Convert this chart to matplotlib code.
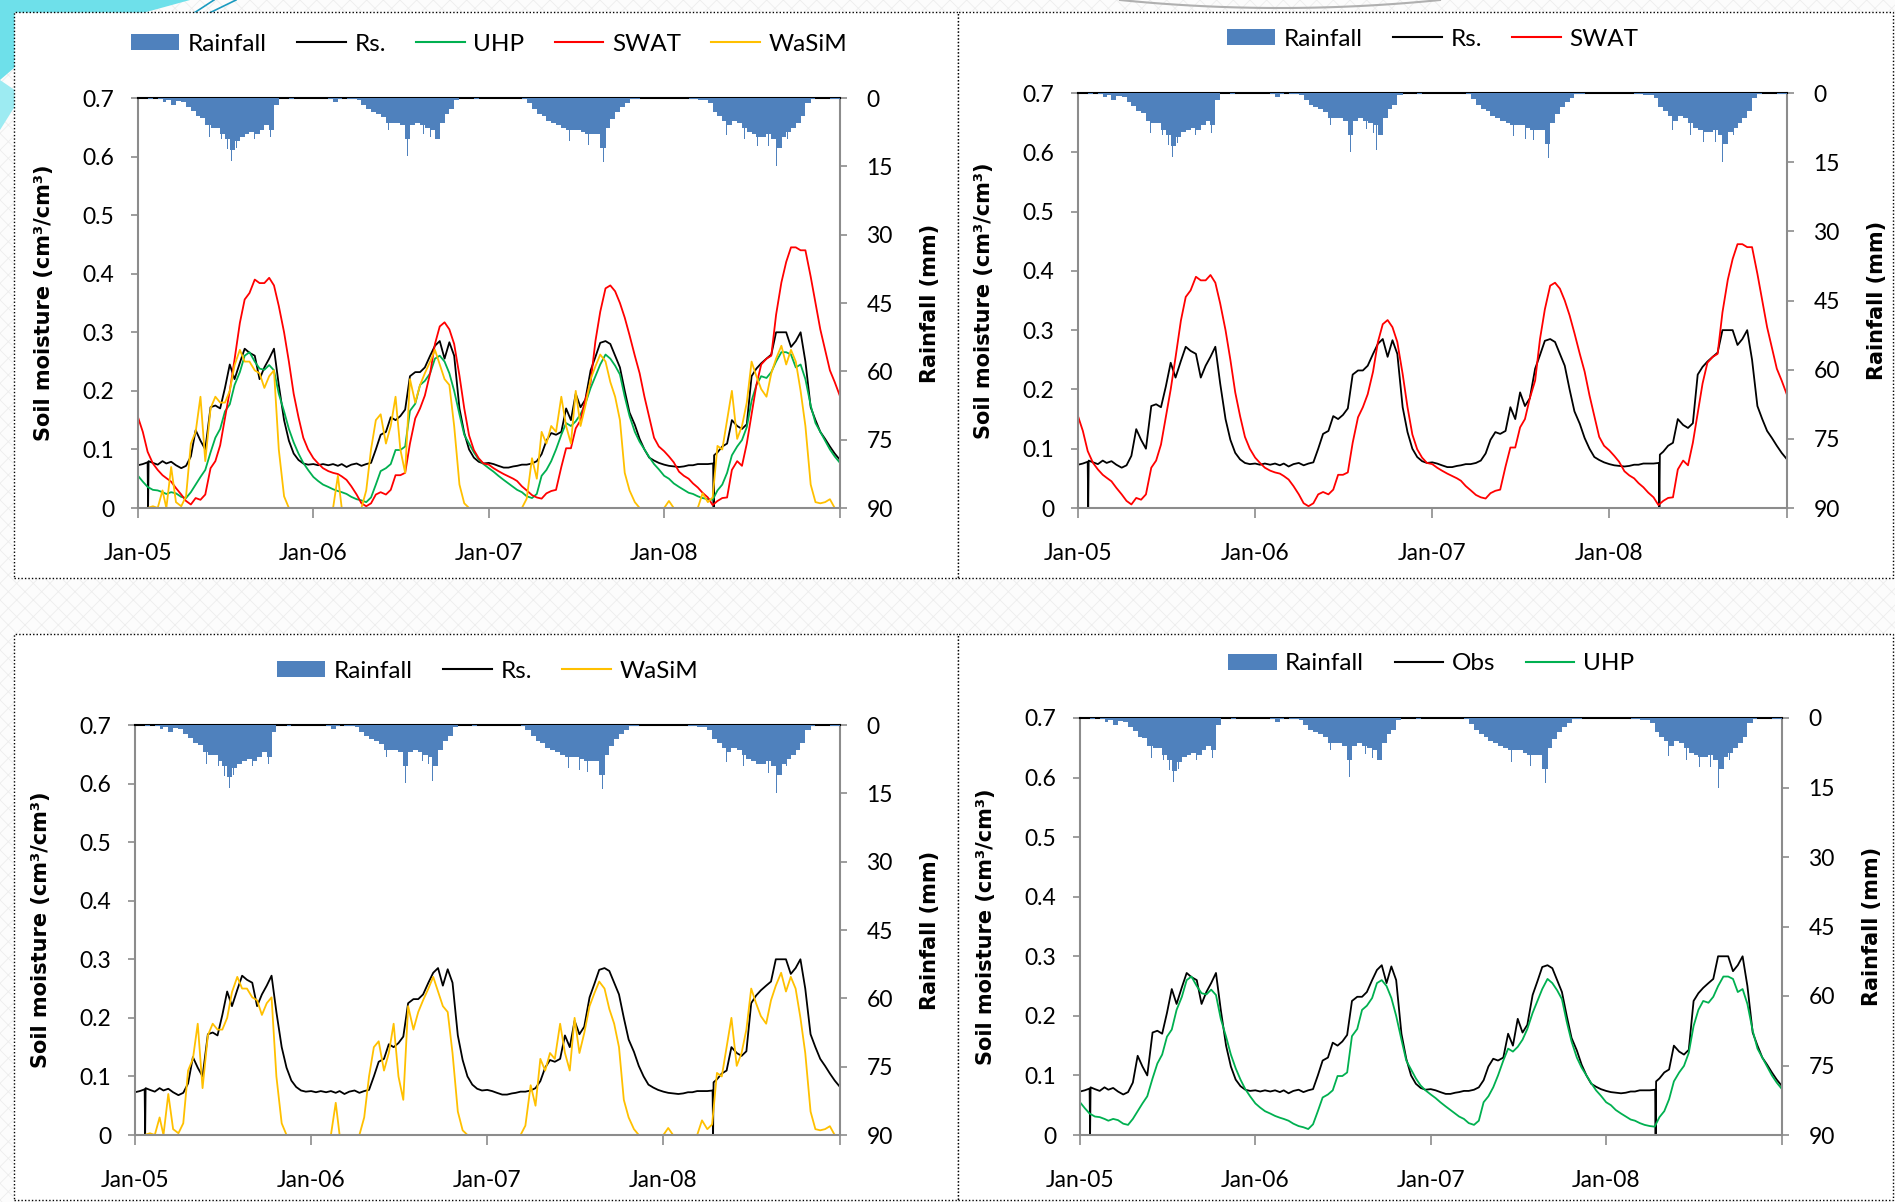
import numpy as np
import pandas as pd
import matplotlib
matplotlib.use('Agg')
import matplotlib.pyplot as plt
import matplotlib.dates as mdates
from matplotlib.patches import Rectangle, Polygon
from matplotlib.lines import Line2D

plt.rcParams['font.family'] = ['Lato', 'DejaVu Sans']

# soil moisture sampled on the 1st, 11th and 21st of each month (cm3/cm3)
years = [2005, 2006, 2007, 2008]
grid = [pd.Timestamp(y, m, d) for y in years for m in range(1, 13) for d in (1, 11, 21)]
grid.append(pd.Timestamp(2008, 12, 31))

rs_2005 = [0.073, 0.075, 0.078, 0.077, 0.074, 0.08, 0.076, 0.079, 0.073, 0.068, 0.072, 0.088,
           0.133, 0.115, 0.10, 0.172, 0.175, 0.17, 0.205, 0.245, 0.22, 0.248, 0.272, 0.265,
           0.26, 0.22, 0.24, 0.255, 0.272, 0.21, 0.15, 0.115, 0.093, 0.082, 0.076, 0.074]
rs_2006 = [0.075, 0.073, 0.075, 0.073, 0.075, 0.072, 0.075, 0.07, 0.074, 0.076, 0.072, 0.075,
           0.077, 0.10, 0.125, 0.13, 0.155, 0.15, 0.157, 0.168, 0.225, 0.232, 0.232, 0.24,
           0.26, 0.277, 0.285, 0.255, 0.283, 0.26, 0.17, 0.128, 0.10, 0.086, 0.079, 0.076]
rs_2007 = [0.077, 0.075, 0.072, 0.069, 0.069, 0.071, 0.072, 0.074, 0.074, 0.076, 0.08, 0.092,
           0.115, 0.128, 0.125, 0.13, 0.17, 0.15, 0.195, 0.172, 0.185, 0.235, 0.258, 0.282,
           0.285, 0.28, 0.26, 0.24, 0.20, 0.163, 0.142, 0.118, 0.10, 0.086, 0.081, 0.077]
rs_2008 = [0.074, 0.072, 0.071, 0.07, 0.071, 0.073, 0.073, 0.075, 0.075, 0.075, 0.076, 0.095,
           0.105, 0.11, 0.15, 0.14, 0.135, 0.143, 0.225, 0.238, 0.247, 0.255, 0.262, 0.30,
           0.30, 0.30, 0.275, 0.285, 0.30, 0.25, 0.172, 0.15, 0.13, 0.118, 0.105, 0.093, 0.083]
# sensor dropouts in the observed series
rs_drop_dates = ['2005-01-21', '2005-01-22', '2005-01-23', '2008-04-12', '2008-04-13', '2008-04-14']
rs_drop_vals = [0.078, 0.0, 0.08, 0.076, 0.0, 0.09]

swat_2005 = [0.155, 0.13, 0.096, 0.076, 0.065, 0.056, 0.051, 0.045, 0.034, 0.023, 0.012, 0.006,
             0.017, 0.014, 0.023, 0.068, 0.08, 0.107, 0.153, 0.20, 0.254, 0.316, 0.356, 0.367,
             0.39, 0.384, 0.384, 0.393, 0.38, 0.345, 0.30, 0.25, 0.195, 0.155, 0.12, 0.10]
swat_2006 = [0.085, 0.076, 0.068, 0.063, 0.06, 0.058, 0.054, 0.048, 0.037, 0.023, 0.008, 0.003,
             0.008, 0.023, 0.027, 0.023, 0.031, 0.056, 0.056, 0.06, 0.11, 0.153, 0.17, 0.192,
             0.23, 0.28, 0.31, 0.317, 0.305, 0.28, 0.226, 0.17, 0.124, 0.099, 0.085, 0.076]
swat_2007 = [0.074, 0.068, 0.063, 0.058, 0.054, 0.05, 0.046, 0.037, 0.03, 0.022, 0.018, 0.016,
             0.025, 0.029, 0.031, 0.07, 0.102, 0.102, 0.136, 0.15, 0.185, 0.215, 0.285, 0.335,
             0.375, 0.38, 0.37, 0.35, 0.325, 0.295, 0.26, 0.23, 0.19, 0.155, 0.12, 0.105]
swat_2008 = [0.097, 0.088, 0.078, 0.062, 0.055, 0.05, 0.042, 0.035, 0.026, 0.018, 0.005, 0.012,
             0.017, 0.018, 0.065, 0.08, 0.072, 0.11, 0.16, 0.21, 0.245, 0.255, 0.26, 0.33,
             0.385, 0.42, 0.445, 0.445, 0.44, 0.44, 0.395, 0.35, 0.305, 0.27, 0.235, 0.215, 0.193]

uhp_2005 = [0.055, 0.045, 0.036, 0.031, 0.03, 0.027, 0.024, 0.027, 0.025, 0.019, 0.017, 0.027,
            0.04, 0.053, 0.065, 0.095, 0.12, 0.135, 0.165, 0.177, 0.21, 0.232, 0.26, 0.266,
            0.25, 0.238, 0.236, 0.244, 0.235, 0.195, 0.165, 0.135, 0.112, 0.093, 0.077, 0.065]
uhp_2006 = [0.053, 0.046, 0.04, 0.036, 0.032, 0.029, 0.027, 0.024, 0.019, 0.015, 0.013, 0.01,
            0.018, 0.04, 0.063, 0.068, 0.075, 0.099, 0.099, 0.105, 0.166, 0.178, 0.21, 0.217,
            0.23, 0.255, 0.26, 0.25, 0.23, 0.20, 0.16, 0.125, 0.11, 0.095, 0.083, 0.075]
uhp_2007 = [0.068, 0.062, 0.055, 0.048, 0.042, 0.036, 0.031, 0.027, 0.02, 0.017, 0.024, 0.055,
            0.065, 0.08, 0.10, 0.125, 0.145, 0.14, 0.148, 0.16, 0.178, 0.205, 0.225, 0.245,
            0.262, 0.255, 0.243, 0.228, 0.19, 0.157, 0.13, 0.113, 0.10, 0.087, 0.075, 0.066]
uhp_2008 = [0.055, 0.05, 0.042, 0.036, 0.031, 0.026, 0.024, 0.02, 0.017, 0.015, 0.014, 0.03,
            0.04, 0.06, 0.09, 0.105, 0.116, 0.138, 0.183, 0.21, 0.225, 0.222, 0.232, 0.25,
            0.266, 0.266, 0.262, 0.24, 0.245, 0.22, 0.175, 0.145, 0.13, 0.115, 0.10, 0.088, 0.078]

wasim_2005 = [0, 0, 0, 0.003, 0, 0.03, 0, 0.07, 0.01, 0.003, 0.02, 0.11,
              0.13, 0.19, 0.08, 0.17, 0.19, 0.18, 0.18, 0.20, 0.244, 0.27, 0.25, 0.25,
              0.235, 0.23, 0.205, 0.225, 0.235, 0.10, 0.02, 0, 0, 0, 0, 0]
wasim_2006 = [0, 0, 0, 0, 0, 0.055, 0, 0, 0, 0, 0, 0.03,
              0.10, 0.15, 0.16, 0.11, 0.14, 0.19, 0.10, 0.06, 0.22, 0.18, 0.21, 0.23,
              0.25, 0.27, 0.245, 0.22, 0.21, 0.14, 0.04, 0.008, 0, 0, 0, 0]
wasim_2007 = [0, 0, 0, 0, 0, 0, 0, 0, 0.016, 0.085, 0.05, 0.13,
              0.11, 0.14, 0.13, 0.19, 0.14, 0.11, 0.20, 0.14, 0.174, 0.22, 0.242, 0.262,
              0.25, 0.215, 0.19, 0.15, 0.06, 0.03, 0.01, 0, 0, 0, 0, 0]
wasim_2008 = [0, 0.012, 0, 0, 0, 0, 0, 0, 0.025, 0.01, 0.018, 0.106,
              0.10, 0.15, 0.20, 0.118, 0.14, 0.18, 0.25, 0.225, 0.203, 0.19, 0.23, 0.255,
              0.277, 0.245, 0.27, 0.25, 0.20, 0.14, 0.04, 0.01, 0.008, 0.01, 0.015, 0, 0]

# rainfall (mm), typical depth of each 10-day block
rain_2005 = [0, 0, 0.2, 0, 0.3, 0.8, 0.4, 1.5, 0.6, 0.8, 2.0, 2.8,
             4.0, 4.3, 6.0, 6.5, 6.5, 8.0, 9.0, 11.5, 9.5, 8.5, 8.0, 7.5,
             8.0, 7.0, 6.0, 7.0, 1.5, 0, 0, 0.2, 0, 0, 0, 0]
rain_2006 = [0, 0, 0, 0.2, 0.8, 0.2, 0, 0.2, 0.3, 0.4, 1.5, 2.5,
             3.0, 3.5, 4.2, 5.5, 5.5, 5.5, 6.0, 9.0, 6.0, 5.5, 6.0, 6.5,
             7.0, 9.0, 5.5, 3.5, 2.5, 0.5, 0, 0, 0, 0.2, 0, 0]
rain_2007 = [0, 0, 0, 0, 0, 0, 0, 0.3, 1.2, 2.5, 3.5, 4.0,
             5.0, 5.5, 6.0, 6.5, 7.0, 7.0, 7.0, 7.5, 8.0, 8.0, 8.0, 11.0,
             6.5, 4.5, 3.0, 2.0, 1.0, 0.3, 0.2, 0, 0, 0, 0, 0]
rain_2008 = [0, 0, 0, 0, 0, 0.2, 0.3, 0.5, 0.5, 1.0, 3.0, 4.0,
             5.0, 6.0, 5.0, 5.5, 6.5, 7.5, 8.0, 8.5, 8.5, 8.0, 9.0, 11.0,
             8.5, 7.5, 6.5, 5.5, 4.0, 1.0, 0.3, 0, 0, 0, 0.3, 0.2]
# heaviest single days
rain_peak_dates = ['2005-05-30', '2005-06-24', '2005-07-06', '2005-07-15', '2005-07-25',
                   '2005-09-01', '2005-10-04', '2006-06-06', '2006-07-16', '2006-08-19',
                   '2006-09-01', '2006-09-09', '2007-06-18', '2007-07-12', '2007-07-28',
                   '2007-08-22', '2007-08-28', '2008-05-10', '2008-06-16', '2008-07-13',
                   '2008-08-06', '2008-08-22', '2008-09-01', '2008-09-13']
rain_peak_mm = [8.6, 9.1, 11.3, 13.9, 10.9, 9.1, 8.6, 7.0, 12.7, 7.8, 8.6, 12.3,
                9.4, 9.9, 10.3, 10.8, 14.0, 8.1, 9.1, 10.6, 10.6, 15.0, 11.0, 9.1]

year_ticks = ['2005-01-01', '2006-01-01', '2007-01-01', '2008-01-01', '2009-01-01']
year_labels = ['Jan-05', 'Jan-06', 'Jan-07', 'Jan-08', '']
sm_ticks = [0, 0.1, 0.2, 0.3, 0.4, 0.5, 0.6, 0.7]
sm_labels = ['0', '0.1', '0.2', '0.3', '0.4', '0.5', '0.6', '0.7']
rain_ticks = [0, 15, 30, 45, 60, 75, 90]


def build(parts, extra_dates=None, extra_vals=None):
    s = pd.Series(np.concatenate(parts), index=grid)
    if extra_dates is not None:
        s = pd.Series(extra_vals, index=pd.to_datetime(extra_dates)).combine_first(s)
    return s.sort_index()


rs = build([rs_2005, rs_2006, rs_2007, rs_2008], rs_drop_dates, rs_drop_vals)
swat = build([swat_2005, swat_2006, swat_2007, swat_2008])
uhp = build([uhp_2005, uhp_2006, uhp_2007, uhp_2008])
wasim = build([wasim_2005, wasim_2006, wasim_2007, wasim_2008])
rain = np.concatenate([rain_2005, rain_2006, rain_2007, rain_2008])

rain_color = '#4f81bd'
green = '#00b050'
red = '#ff0000'
yellow = '#ffc000'
grey = '#8c8c8c'
W, H = 1895, 1202

fig = plt.figure(figsize=(W / 100, H / 100), dpi=100)
fig.patch.set_facecolor('white')
plt.rcParams['hatch.linewidth'] = 0.6
fig.add_artist(Rectangle((0, 0), 1, 1, transform=fig.transFigure, fc='#fcfcfc',
                         ec='#ededed', hatch='xx', lw=0, zorder=-10))

# slide decoration in the upper left corner and the arc at the top
fig.add_artist(Polygon([(0, 1), (190 / W, 1), (110 / W, 1 - 22 / H), (35 / W, 1 - 50 / H),
                        (0, 1 - 80 / H)], closed=True, transform=fig.transFigure,
                       fc='#6ee0ea', ec='none', zorder=-9))
fig.add_artist(Polygon([(0, 1 - 80 / H), (22 / W, 1 - 95 / H), (0, 1 - 130 / H)], closed=True,
                       transform=fig.transFigure, fc='#9debf2', ec='none', zorder=-9))
for (x0, y0, x1, y1) in [(150, 42, 236, 0), (168, 30, 214, 0), (120, 44, 200, 16)]:
    fig.add_artist(Line2D([x0 / W, x1 / W], [1 - y0 / H, 1 - y1 / H], transform=fig.transFigure,
                          color='#1b9bc0', lw=1.2, zorder=-9))
arc_x = np.linspace(1120, 1440, 60)
arc_y = 8 * (1 - ((arc_x - 1280) / 160) ** 2)
fig.add_artist(Line2D(arc_x / W, 1 - arc_y / H, transform=fig.transFigure,
                      color='#b0b0b0', lw=1.5, zorder=-9))

panels = [
    ((14, 12, 958, 578), (138, 98, 840, 508),
     [('Rs.', rs, 'black'), ('UHP', uhp, green), ('SWAT', swat, red), ('WaSiM', wasim, yellow)], 44),
    ((958, 12, 1893, 578), (1078, 93, 1787, 508),
     [('Rs.', rs, 'black'), ('SWAT', swat, red)], 39),
    ((14, 634, 958, 1200), (135, 725, 840, 1135),
     [('Rs.', rs, 'black'), ('WaSiM', wasim, yellow)], 671),
    ((958, 634, 1893, 1200), (1080, 718, 1782, 1135),
     [('Obs', rs, 'black'), ('UHP', uhp, green)], 664),
]

tick_font = 16.5
legend_font = 17.5
label_font = 15
bar_x = mdates.date2num(grid[:-1])
bar_w = np.diff(mdates.date2num(grid))

for box, pos, lines, leg_y in panels:
    bx0, by0, bx1, by1 = box
    fig.add_artist(Rectangle((bx0 / W, 1 - by1 / H), (bx1 - bx0) / W, (by1 - by0) / H,
                             transform=fig.transFigure, fc='white', ec='black',
                             ls=(0, (1, 1.5)), lw=1.0, zorder=-5))
    x0, y0, x1, y1 = pos
    ax = fig.add_axes([x0 / W, 1 - y1 / H, (x1 - x0) / W, (y1 - y0) / H])
    ax.patch.set_alpha(0)

    handles = [Rectangle((0, 0), 1, 1, fc=rain_color, ec='none')]
    labels = ['Rainfall']
    for name, s, col in lines:
        ax.plot(s.index, s.values, color=col, lw=1.3, zorder=2)
        handles.append(Line2D([], [], color=col, lw=1.5))
        labels.append(name)

    ax.set_xlim(pd.Timestamp('2005-01-01'), pd.Timestamp('2009-01-01'))
    ax.set_ylim(0, 0.7)
    ax.set_xticks(pd.to_datetime(year_ticks))
    ax.set_xticklabels(year_labels, fontsize=tick_font)
    ax.set_yticks(sm_ticks)
    ax.set_yticklabels(sm_labels, fontsize=tick_font)
    ax.tick_params(axis='x', direction='out', length=7, width=1.2, color=grey, pad=18)
    ax.tick_params(axis='y', direction='out', length=5, width=1.2, color=grey, pad=12)
    for side in ('left', 'bottom'):
        ax.spines[side].set_color(grey)
        ax.spines[side].set_linewidth(1.5)
    ax.spines['top'].set_visible(False)
    ax.spines['right'].set_visible(False)
    ax.set_ylabel('Soil moisture (cm\u00b3/cm\u00b3)', family='DejaVu Sans',
                  fontweight='bold', fontsize=label_font)
    ax.yaxis.set_label_coords(-84 / (x1 - x0), 0.5)

    ax2 = ax.twinx()
    ax2.bar(bar_x, rain, width=bar_w, align='edge', color=rain_color, lw=0, zorder=3)
    ax2.bar(pd.to_datetime(rain_peak_dates), rain_peak_mm, width=2, color=rain_color,
            lw=0, zorder=3)
    ax2.set_ylim(90, 0)
    ax2.set_yticks(rain_ticks)
    ax2.set_yticklabels([str(t) for t in rain_ticks], fontsize=tick_font)
    ax2.tick_params(axis='y', direction='out', length=5, width=1.2, color=grey, pad=14)
    ax2.spines['right'].set_color(grey)
    ax2.spines['right'].set_linewidth(1.5)
    ax2.spines['top'].set_color('black')
    ax2.spines['top'].set_linewidth(1.5)
    ax2.spines['left'].set_visible(False)
    ax2.spines['bottom'].set_visible(False)
    ax2.set_ylabel('Rainfall (mm)', family='DejaVu Sans', fontweight='bold', fontsize=label_font)
    ax2.yaxis.set_label_coords(1 + 80 / (x1 - x0), 0.5)

    ax2.legend(handles, labels, loc='center', ncol=len(labels), frameon=False,
               bbox_to_anchor=(0.5, 1 + (y0 - leg_y) / (y1 - y0)), fontsize=legend_font,
               handlelength=2.0, handleheight=0.6, handletextpad=0.35, columnspacing=1.25)

fig.savefig('out.png', dpi=100)
